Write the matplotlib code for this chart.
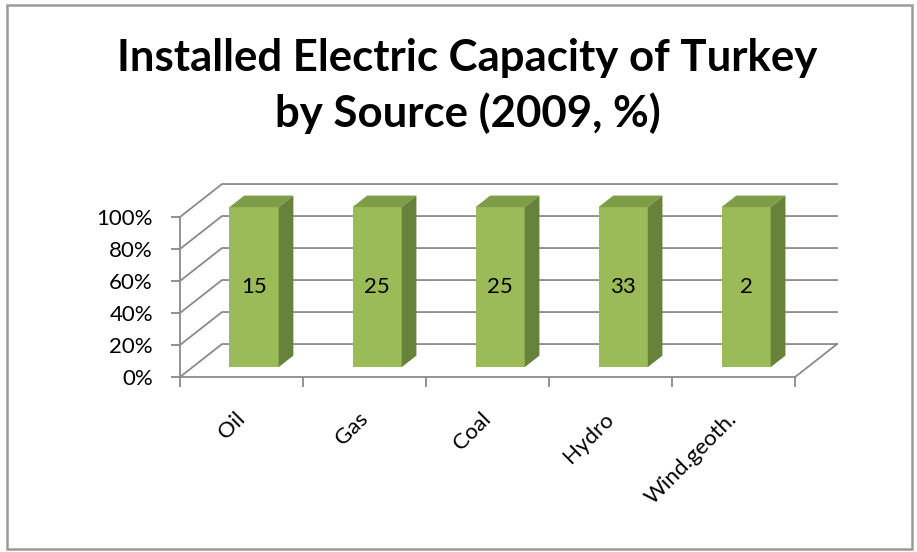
import numpy as np
import matplotlib
matplotlib.use("Agg")
import matplotlib.pyplot as plt
from matplotlib.patches import Polygon, Rectangle

plt.rcParams["font.family"] = ["Lato", "DejaVu Sans"]

sources = ["Oil", "Gas", "Coal", "Hydro", "Wind.geoth."]
shares = [15, 25, 25, 33, 2]
yticks = [0, 20, 40, 60, 80, 100]
ytick_labels = ["0%", "20%", "40%", "60%", "80%", "100%"]

# 100% stacked chart with a single series -> every column is full height
pct = np.array(shares, dtype=float) / np.array(shares, dtype=float) * 100

# fake 3d: depth of the wall in data units
Dx, Dy = 0.341, 20.6
front_d, side_d = 0.30, 0.35
bw = 0.40
grid_col = "#8a8a8a"
c_front, c_side, c_top = "#9bbb59", "#67823a", "#7e9d46"

fig = plt.figure(figsize=(9.17, 5.52), dpi=100)
ax = fig.add_axes([0.1963, 0.3170, 0.7165, 0.3496])
ax.set_xlim(-0.5, len(sources) - 0.5 + Dx)
ax.set_ylim(0, 100 + Dy)

# walls and gridlines
x_last = len(sources) - 0.5
for v in yticks:
    ax.plot([-0.5, -0.5 + Dx, x_last + Dx], [v, v + Dy, v + Dy],
            color=grid_col, lw=1.3, zorder=1, clip_on=False)
ax.plot([x_last, x_last + Dx], [0, Dy], color=grid_col, lw=1.3, zorder=1, clip_on=False)

x = np.arange(len(sources))
xl = x + front_d * Dx - bw / 2
base = front_d * Dy
ax.bar(xl, pct, width=bw, bottom=base, align="edge", color=c_front, zorder=3)
for i in range(len(sources)):
    top = base + pct[i]
    sx, sy = side_d * Dx, side_d * Dy
    ax.add_patch(Polygon([(xl[i], top), (xl[i] + bw, top), (xl[i] + bw + sx, top + sy),
                          (xl[i] + sx, top + sy)], closed=True, fc=c_top, ec="none", zorder=3))
    ax.add_patch(Polygon([(xl[i] + bw, base), (xl[i] + bw + sx, base + sy),
                          (xl[i] + bw + sx, top + sy), (xl[i] + bw, top)],
                         closed=True, fc=c_side, ec="none", zorder=3))
    ax.text(xl[i] + bw / 2, base + pct[i] / 2, str(shares[i]), ha="center", va="center",
            fontsize=16, zorder=4)

for s in ["top", "right"]:
    ax.spines[s].set_visible(False)
ax.spines["left"].set_bounds(0, 100)
ax.spines["bottom"].set_bounds(-0.5, x_last)
for s in ["left", "bottom"]:
    ax.spines[s].set_color(grid_col)
    ax.spines[s].set_linewidth(1.3)

ax.set_yticks(yticks)
ax.set_yticklabels(ytick_labels, fontsize=16)
ax.tick_params(axis="y", length=6.5, width=1.3, color=grid_col, pad=13)

ax.set_xticks(np.arange(len(sources) + 1) - 0.5)
ax.set_xticklabels([])
ax.tick_params(axis="x", which="major", length=7, width=1.3, color=grid_col)
ax.set_xticks(x, minor=True)
ax.set_xticklabels(sources, minor=True, fontsize=16, rotation=45, ha="right",
                   va="center", rotation_mode="anchor")
ax.tick_params(axis="x", which="minor", length=0, pad=28)
ax.patch.set_visible(False)

fig.text(0.51, 1 - 38 / 552, "Installed Electric Capacity of Turkey\nby Source (2009, %)",
         ha="center", va="top", fontsize=31.5, fontweight="bold", linespacing=1.42)

fig.add_artist(Rectangle((7 / 917, 3 / 552), 905 / 917, 544 / 552, transform=fig.transFigure,
                         fill=False, ec="#9a9a9a", lw=1.8))

fig.savefig("out.png", dpi=100)
